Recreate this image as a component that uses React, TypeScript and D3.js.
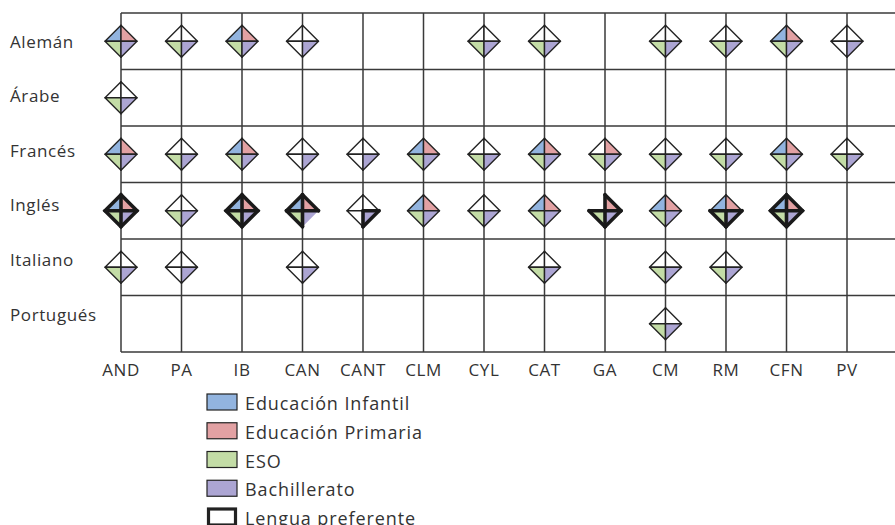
import * as d3 from "d3";

const languages = ["Alemán", "Árabe", "Francés", "Inglés", "Italiano", "Portugués"];
const regions = ["AND", "PA", "IB", "CAN", "CANT", "CLM", "CYL", "CAT", "GA", "CM", "RM", "CFN", "PV"];

// I = Educación Infantil, P = Educación Primaria, E = ESO, B = Bachillerato
const levelCodes = ["I", "P", "E", "B"];
const levelNames = ["Educación Infantil", "Educación Primaria", "ESO", "Bachillerato"];
const levelColors = ["#92b4df", "#e2a1a3", "#c3dca6", "#aca5d3"];

const alemanOffer = ["IPEB", "EB", "IPEB", "B", "", "", "EB", "EB", "", "EB", "EB", "IPEB", "B"];
const arabeOffer = ["EB", "", "", "", "", "", "", "", "", "", "", "", ""];
const francesOffer = ["IPEB", "EB", "IPEB", "B", "B", "IPEB", "EB", "IPEB", "PEB", "EB", "EB", "IPEB", "EB"];
const inglesOffer = ["IPEB", "EB", "IPEB", "IPEB", "B", "IPEB", "EB", "IPEB", "PEB", "IPEB", "IPEB", "IPEB", ""];
const italianoOffer = ["EB", "B", "", "B", "", "", "", "EB", "", "EB", "EB", "", ""];
const portuguesOffer = ["", "", "", "", "", "", "", "", "", "EB", "", "", ""];

// lengua preferente (only Inglés has it)
const inglesPreferred = ["IPEB", "", "IPEB", "IPE", "B", "", "", "", "PEB", "", "EB", "IPEB", ""];
// quadrants drawn without thin outline in the original
const inglesNoOutline = ["", "", "", "B", "", "", "", "", "I", "", "", "", ""];

const offers = [alemanOffer, arabeOffer, francesOffer, inglesOffer, italianoOffer, portuguesOffer];
const preferred = [[], [], [], inglesPreferred, [], []] as string[][];
const noOutline = [[], [], [], inglesNoOutline, [], []] as string[][];

const legendItems = [...levelNames, "Lengua preferente"];

const W = 895;
const H = 525;
const FONT = "'Open Sans', sans-serif";
const INK = "#222";

const x = d3.scalePoint<string>().domain(regions).range([121, 847]);
const y = d3.scaleBand<string>().domain(languages).range([13, 352]).paddingInner(0).paddingOuter(0);
const labelY = d3.scaleLinear().domain([0, languages.length - 1]).range([41, 314]);
const legendY = d3.scaleLinear().domain([0, legendItems.length - 1]).range([402, 517]);

const R = 16;

type Pt = [number, number];

function Glyph({ cx, cy, offer, pref, hide }: { cx: number; cy: number; offer: string; pref: string; hide: string }) {
  const c: Pt = [cx, cy];
  const top: Pt = [cx, cy - R];
  const right: Pt = [cx + R, cy];
  const bottom: Pt = [cx, cy + R];
  const left: Pt = [cx - R, cy];
  const tri: Record<string, Pt[]> = {
    I: [c, left, top],
    P: [c, top, right],
    E: [c, left, bottom],
    B: [c, right, bottom],
  };
  const line = d3.line();
  const quads = levelCodes.map((q, i) => {
    const filled = offer.includes(q);
    const noStroke = hide.includes(q);
    return (
      <path
        key={q}
        d={line([...tri[q], tri[q][0]]) ?? ""}
        fill={filled ? levelColors[i] : noStroke ? "none" : "#fff"}
        stroke={noStroke ? "none" : INK}
        strokeWidth={1.4}
        strokeLinejoin="round"
      />
    );
  });

  const bold: JSX.Element[] = [];
  if (pref) {
    const verts = [top, right, bottom, left];
    const owners = ["P", "B", "E", "I"];
    const isBold = owners.map((o) => pref.includes(o));
    if (isBold.every(Boolean)) {
      bold.push(<path key="o" d={line([...verts, top]) + "Z"} />);
    } else {
      isBold.forEach((b, k) => {
        if (b) bold.push(<path key={"o" + k} d={line([verts[k], verts[(k + 1) % 4]]) ?? ""} />);
      });
    }
    const cross: [Pt, string][] = [
      [top, "IP"],
      [right, "PB"],
      [bottom, "EB"],
      [left, "IE"],
    ];
    cross.forEach(([p, ow], k) => {
      if (pref.includes(ow[0]) || pref.includes(ow[1]))
        bold.push(<path key={"c" + k} d={line([c, p]) ?? ""} />);
    });
  }

  return (
    <g>
      {quads}
      <g fill="none" stroke="#1a1a1a" strokeWidth={3.6} strokeLinecap="round" strokeLinejoin="miter">
        {bold}
      </g>
    </g>
  );
}

export default function App() {
  const rowEdges = [...languages.map((l) => y(l) ?? 0), 352];
  return (
    <svg
      width={W}
      height={H}
      style={{ position: "absolute", left: 0, top: 0, background: "#fff" }}
      fontFamily={FONT}
    >
      {/* grid */}
      <g stroke="#3a3a3a" strokeWidth={1.5}>
        {rowEdges.map((yy, i) => (
          <line key={"h" + i} x1={x(regions[0])} x2={W + 5} y1={yy} y2={yy} />
        ))}
        {regions.map((r) => (
          <line key={"v" + r} x1={x(r)} x2={x(r)} y1={13} y2={352} />
        ))}
      </g>

      {/* glyphs */}
      {languages.map((lang, li) =>
        regions.map((reg, ri) => {
          const offer = offers[li][ri];
          if (!offer) return null;
          return (
            <Glyph
              key={lang + reg}
              cx={x(reg) ?? 0}
              cy={(y(lang) ?? 0) + y.bandwidth() / 2}
              offer={offer}
              pref={preferred[li][ri] ?? ""}
              hide={noOutline[li][ri] ?? ""}
            />
          );
        })
      )}

      {/* row labels */}
      <g fontSize={17} fill="#333" letterSpacing={0.6}>
        {languages.map((l, i) => (
          <text key={l} x={10} y={labelY(i)} dominantBaseline="central">
            {l}
          </text>
        ))}
      </g>

      {/* column labels */}
      <g fontSize={17} fill="#333" textAnchor="middle" letterSpacing={0.6}>
        {regions.map((r) => (
          <text key={r} x={x(r)} y={369} dominantBaseline="central">
            {r}
          </text>
        ))}
      </g>

      {/* legend */}
      <g fontSize={18} fill="#333" letterSpacing={0.9}>
        {legendItems.map((name, i) => {
          const isPref = i === levelNames.length;
          return (
            <g key={name} transform={`translate(207,${legendY(i)})`}>
              <rect
                x={isPref ? 1.5 : 0}
                y={-8}
                width={isPref ? 27 : 30}
                height={16}
                fill={isPref ? "#fff" : levelColors[i]}
                stroke="#222"
                strokeWidth={isPref ? 3.2 : 1.2}
              />
              <text x={38} y={1} dominantBaseline="central">
                {name}
              </text>
            </g>
          );
        })}
      </g>
    </svg>
  );
}
